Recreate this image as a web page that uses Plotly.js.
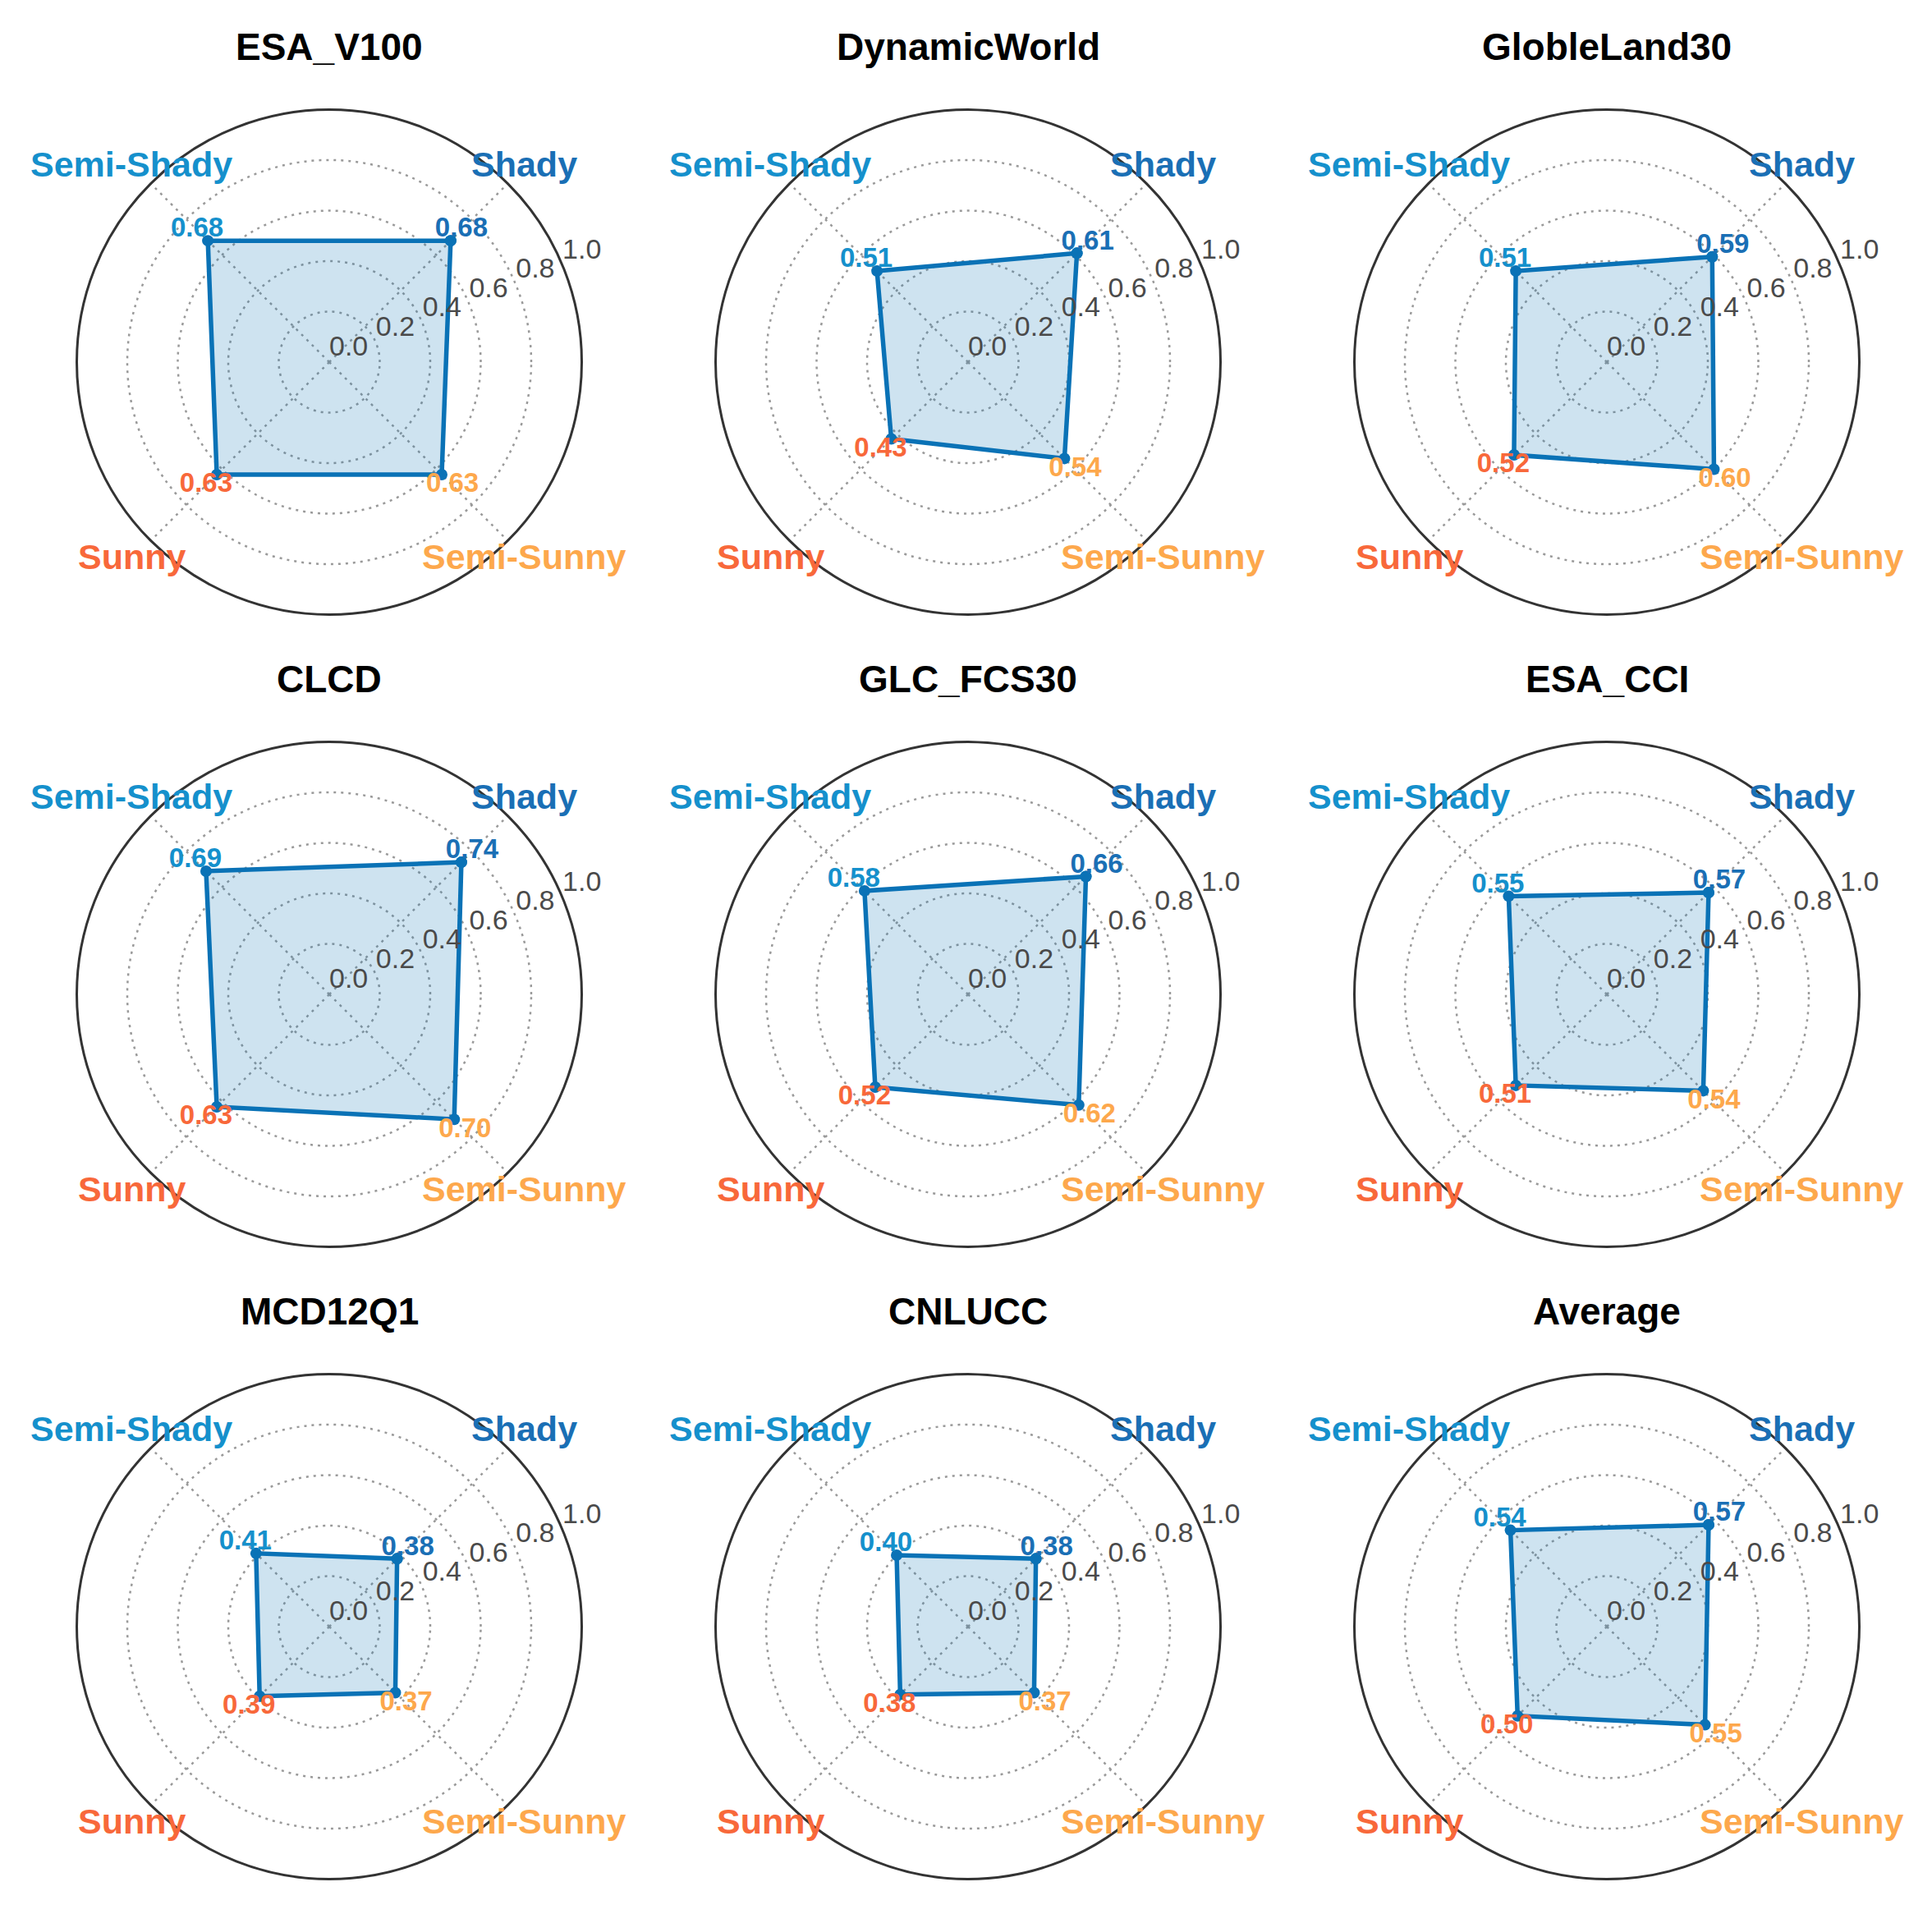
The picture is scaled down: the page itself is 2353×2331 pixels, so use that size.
<!DOCTYPE html>
<html>
<head>
<meta charset="utf-8">
<script src="https://cdn.plot.ly/plotly-3.0.1.min.js"></script>
<style>html,body{margin:0;padding:0;background:#fff;}#chart{width:2353px;height:2331px;}</style>
</head>
<body>
<div id="chart"></div>
<script>
// ---- data ----
const categories = ["Shady", "Semi-Shady", "Sunny", "Semi-Sunny"];
const datasets = ["ESA_V100", "DynamicWorld", "GlobleLand30", "CLCD", "GLC_FCS30", "ESA_CCI", "MCD12Q1", "CNLUCC", "Average"];
const ESA_V100     = [0.68, 0.68, 0.63, 0.63];
const DynamicWorld = [0.61, 0.51, 0.43, 0.54];
const GlobleLand30 = [0.59, 0.51, 0.52, 0.60];
const CLCD         = [0.74, 0.69, 0.63, 0.70];
const GLC_FCS30    = [0.66, 0.58, 0.52, 0.62];
const ESA_CCI      = [0.57, 0.55, 0.51, 0.54];
const MCD12Q1      = [0.38, 0.41, 0.39, 0.37];
const CNLUCC       = [0.38, 0.40, 0.38, 0.37];
const Average      = [0.57, 0.54, 0.50, 0.55];
const radialTicks = [0, 0.2, 0.4, 0.6, 0.8, 1.0];
const radialTickText = ["0.0", "0.2", "0.4", "0.6", "0.8", "1.0"];

const seriesValues = [ESA_V100, DynamicWorld, GlobleLand30, CLCD, GLC_FCS30, ESA_CCI, MCD12Q1, CNLUCC, Average];

// ---- style ----
const W = 2353, H = 2331;
const catColors = ["#1a6fb5", "#1590cc", "#f8683a", "#fda84c"];
const lineColor = "#0a72b6";
const FONT = "Liberation Sans, Arial, sans-serif";
const colCenters = [401, 1179, 1957];
const rowCenters = [441, 1211, 1981];
const R = 307.5;
// category label offsets (px) from the circle centre: [dx, dy]
const catOffsets = [[237, -241], [-241, -241], [-241, 237], [237, 237]];
const radialLabelAngle = 22.5;  // degrees, where the radial tick labels sit
const n = seriesValues.length;

const traces = [];
const layout = {
  width: W, height: H,
  margin: {l: 0, r: 0, t: 0, b: 0},
  paper_bgcolor: "#fff",
  showlegend: false,
  font: {family: FONT},
  annotations: []
};

seriesValues.forEach((vals, i) => {
  const row = Math.floor(i / 3), col = i % 3;
  const id = i === 0 ? "polar" : "polar" + (i + 1);
  const idTicks = "polar" + (n + i + 1);
  const cx = colCenters[col], cy = rowCenters[row];
  const domain = {
    x: [(cx - R) / W, (cx + R) / W],
    y: [1 - (cy + R) / H, 1 - (cy - R) / H]
  };
  layout[id] = {
    domain: domain,
    bgcolor: "rgba(0,0,0,0)",
    angularaxis: {
      type: "category",
      categoryarray: categories,
      rotation: 45,
      direction: "counterclockwise",
      showline: true, linecolor: "#333", linewidth: 3,
      showgrid: true, gridcolor: "#9a9a9a", gridwidth: 2.5, griddash: "3px,6px",
      showticklabels: false, ticks: ""
    },
    radialaxis: {
      range: [0, 1],
      tickvals: radialTicks,
      showticklabels: false,
      showline: false, ticks: "",
      showgrid: true, gridcolor: "#9a9a9a", gridwidth: 2.5, griddash: "3px,6px"
    }
  };
  // overlaid invisible polar used only to place the radial tick labels
  layout[idTicks] = {
    domain: domain,
    bgcolor: "rgba(0,0,0,0)",
    angularaxis: {type: "linear", thetaunit: "degrees", rotation: 0, direction: "counterclockwise",
                  visible: false, showgrid: false, showline: false, showticklabels: false, ticks: ""},
    radialaxis: {range: [0, 1], visible: false, showgrid: false, showline: false, showticklabels: false, ticks: ""}
  };
  traces.push({
    type: "scatterpolar", subplot: id,
    r: vals.concat([vals[0]]),
    theta: categories.concat([categories[0]]),
    mode: "lines+markers",
    fill: "toself", fillcolor: "rgba(10,114,182,0.2)",
    line: {color: lineColor, width: 5.5},
    marker: {color: lineColor, size: 14},
    hoverinfo: "skip"
  });
  traces.push({
    type: "scatterpolar", subplot: id,
    r: vals.map(v => v + 0.06),
    theta: categories,
    mode: "text",
    text: vals.map(v => v.toFixed(2)),
    textposition: "middle center",
    textfont: {size: 33, color: catColors, family: FONT, weight: "bold"},
    cliponaxis: false,
    hoverinfo: "skip"
  });
  traces.push({
    type: "scatterpolar", subplot: idTicks,
    r: radialTicks,
    theta: radialTicks.map(() => radialLabelAngle),
    mode: "text",
    text: radialTickText,
    textposition: "top right",
    textfont: {size: 34, color: "#4a4a4a", family: FONT},
    cliponaxis: false,
    hoverinfo: "skip"
  });
  categories.forEach((c, k) => {
    layout.annotations.push({
      xref: "paper", yref: "paper",
      x: (cx + catOffsets[k][0]) / W,
      y: 1 - (cy + catOffsets[k][1]) / H,
      xanchor: "center", yanchor: "middle",
      text: "<b>" + c + "</b>",
      showarrow: false,
      font: {size: 43, color: catColors[k], family: FONT}
    });
  });
  layout.annotations.push({
    xref: "paper", yref: "paper",
    x: cx / W, y: 1 - (cy - 384) / H,
    xanchor: "center", yanchor: "middle",
    text: "<b>" + datasets[i] + "</b>",
    showarrow: false,
    font: {size: 46, color: "#000", family: FONT}
  });
});

Plotly.newPlot("chart", traces, layout, {staticPlot: true});
</script>
</body>
</html>
